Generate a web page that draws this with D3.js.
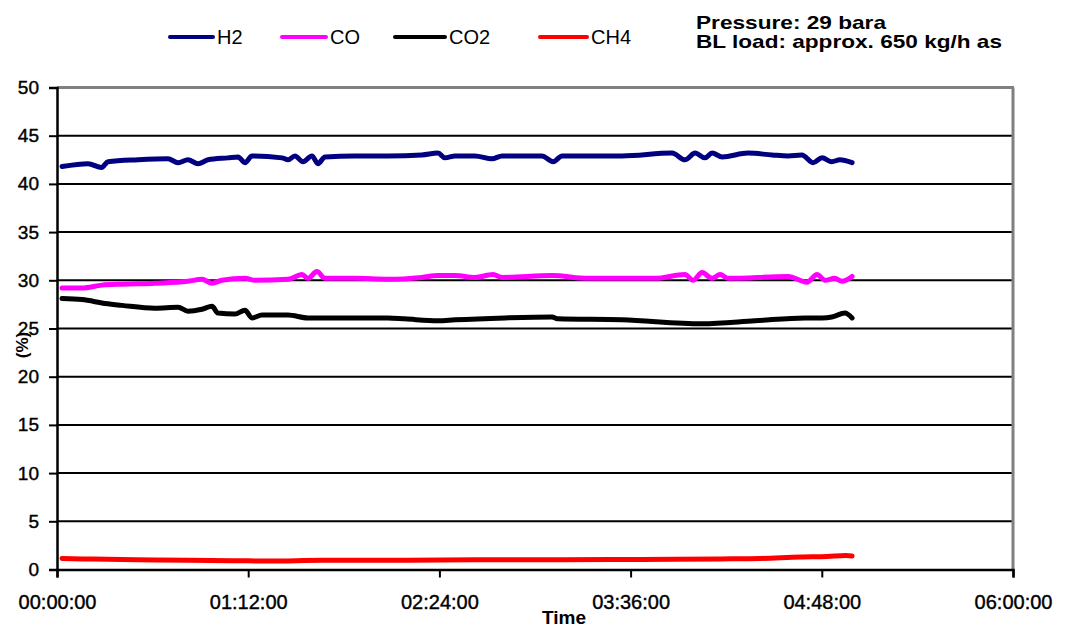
<!DOCTYPE html>
<html><head><meta charset="utf-8">
<script src="https://cdn.jsdelivr.net/npm/d3@7"></script>
<style>body{margin:0;background:#fff}svg{display:block}</style>
</head><body>
<script>
// ---- data (time in minutes, value in %) ----
const seriesNames = ["H2", "CO", "CO2", "CH4"];
const seriesColors = ["#000080", "#ff00ff", "#000000", "#ff0000"];
const yTicks = [0, 5, 10, 15, 20, 25, 30, 35, 40, 45, 50];
const xTickMinutes = [0, 72, 144, 216, 288, 360];
const xTickLabels = ["00:00:00", "01:12:00", "02:24:00", "03:36:00", "04:48:00", "06:00:00"];

const h2Time = [1.9,11.7,16.8,19.2,30.5,41.8,45.6,49.3,53.1,56.9,64.4,68.2,70.8,73.4,84.7,87.0,89.6,92.6,96.0,98.3,100.9,112.2,124.6,137.4,143.5,146.1,149.9,157.4,163.8,167.6,182.6,186.8,190.2,212.8,231.6,236.5,240.3,244.0,246.7,250.5,260.2,269.3,275.3,280.5,284.7,288.1,291.8,294.8,299.4];
const h2Values = [41.8,42.1,41.7,42.3,42.5,42.6,42.2,42.5,42.1,42.5,42.7,42.8,42.2,42.9,42.7,42.5,42.9,42.3,42.9,42.1,42.8,42.9,42.9,43.0,43.2,42.7,42.9,42.9,42.6,42.9,42.9,42.3,42.9,42.9,43.2,42.5,43.2,42.7,43.2,42.8,43.2,43.0,42.9,43.0,42.2,42.7,42.3,42.5,42.2];

const coTime = [1.9,9.4,16.9,24.5,36.9,49.3,54.6,58.4,62.1,70.8,74.6,87.0,92.3,94.5,97.9,100.9,112.2,124.6,137.4,143.5,149.9,157.4,164.2,167.6,186.4,200.0,225.2,236.5,239.5,242.9,246.7,249.7,252.7,275.3,282.4,286.2,289.2,292.9,295.6,299.4];
const coValues = [29.2,29.2,29.5,29.6,29.7,29.9,30.1,29.7,30.0,30.2,30.0,30.1,30.6,30.2,30.9,30.2,30.2,30.1,30.3,30.5,30.5,30.3,30.6,30.3,30.5,30.2,30.2,30.6,30.0,30.8,30.2,30.6,30.2,30.4,29.8,30.6,30.0,30.2,29.9,30.4];

const co2Time = [1.9,9.4,18.1,24.5,36.9,45.6,49.3,54.6,58.4,60.6,67.0,70.8,73.4,77.2,87.0,94.5,112.2,124.6,131.0,143.5,149.9,168.7,186.4,188.7,212.8,242.9,262.8,281.7,288.1,291.8,296.7,299.4];
const co2Values = [28.1,28.0,27.6,27.4,27.1,27.2,26.8,27.0,27.3,26.6,26.5,26.9,26.1,26.4,26.4,26.1,26.1,26.1,26.0,25.8,25.9,26.1,26.2,26.0,25.9,25.5,25.8,26.1,26.1,26.2,26.6,26.1];

const ch4Time = [1.9,10,30,50,70,80,100,130,160,190,220,250,265,280,290,297,299.4];
const ch4Values = [1.15,1.1,1.0,0.95,0.9,0.88,0.95,0.95,1.0,1.0,1.05,1.1,1.15,1.3,1.35,1.45,1.4];

const seriesTimes = [h2Time, coTime, co2Time, ch4Time];
const seriesValues = [h2Values, coValues, co2Values, ch4Values];

// ---- layout ----
const W = 1070, H = 628;
const plotLeft = 57, plotRight = 1013, plotTop = 87.5, plotBottom = 569.5;

const svg = d3.select("body").append("svg").attr("width", W).attr("height", H)
  .style("font-family", "Arial, 'Liberation Sans', sans-serif");

const x = d3.scaleLinear().domain([0, 360]).range([plotLeft, plotRight]);
const y = d3.scaleLinear().domain([0, 50]).range([plotBottom, plotTop]);

// gridlines
svg.append("g").selectAll("line").data(yTicks.filter(d => d > 0 && d < 50)).join("line")
  .attr("x1", plotLeft).attr("x2", plotRight).attr("y1", d => y(d)).attr("y2", d => y(d))
  .attr("stroke", "#000").attr("stroke-width", 2);

// top and right border (gray)
svg.append("line").attr("x1", plotLeft).attr("x2", plotRight + 1).attr("y1", y(50)).attr("y2", y(50))
  .attr("stroke", "#808080").attr("stroke-width", 3);
svg.append("line").attr("x1", plotRight).attr("x2", plotRight).attr("y1", y(50)).attr("y2", y(0))
  .attr("stroke", "#808080").attr("stroke-width", 3);

// y axis
const yAxis = d3.axisLeft(y).tickValues(yTicks).tickSize(8).tickPadding(10).tickFormat(d3.format("d"));
const gy = svg.append("g").attr("transform", `translate(${plotLeft},0)`).call(yAxis);
gy.select(".domain").attr("stroke", "#000").attr("stroke-width", 2.5);
gy.selectAll(".tick line").attr("stroke", "#000").attr("stroke-width", 2);
gy.selectAll(".tick text").attr("font-size", 19).attr("fill", "#000")
  .attr("stroke", "#000").attr("stroke-width", 0.4)
  .attr("font-family", "Arial, 'Liberation Sans', sans-serif");

// x axis
const xAxis = d3.axisBottom(x).tickValues(xTickMinutes).tickSize(8).tickPadding(17)
  .tickFormat((d, i) => xTickLabels[i]);
const gx = svg.append("g").attr("transform", `translate(0,${plotBottom})`).call(xAxis);
gx.select(".domain").attr("stroke", "#000").attr("stroke-width", 2.5);
gx.selectAll(".tick line").attr("stroke", "#000").attr("stroke-width", 2);
gx.selectAll(".tick text").attr("font-size", 20).attr("fill", "#000")
  .attr("stroke", "#000").attr("stroke-width", 0.4)
  .attr("font-family", "Arial, 'Liberation Sans', sans-serif");

// series lines
const line = d3.line().x(d => x(d[0])).y(d => y(d[1])).curve(d3.curveMonotoneX);
seriesNames.forEach((name, i) => {
  const pts = seriesTimes[i].map((t, j) => [t, seriesValues[i][j]]);
  svg.append("path").datum(pts).attr("d", line).attr("fill", "none")
    .attr("stroke", seriesColors[i]).attr("stroke-width", 5)
    .attr("stroke-linejoin", "round").attr("stroke-linecap", "round");
});

// axis titles
svg.append("text").attr("x", 564).attr("y", 624).attr("text-anchor", "middle")
  .attr("font-size", 19).attr("font-weight", "bold").text("Time");
svg.append("text").attr("transform", "translate(28,345) rotate(-90)").attr("text-anchor", "middle")
  .attr("font-size", 17).attr("font-weight", "bold").text("(%)");

// legend
const legX = [170, 282, 395, 540];
const legLen = [43, 44, 50, 47];
const leg = svg.append("g");
seriesNames.forEach((name, i) => {
  leg.append("line").attr("x1", legX[i]).attr("x2", legX[i] + legLen[i]).attr("y1", 37).attr("y2", 37)
    .attr("stroke", seriesColors[i]).attr("stroke-width", 4).attr("stroke-linecap", "round");
  leg.append("text").attr("x", legX[i] + legLen[i] + 4).attr("y", 44).attr("font-size", 20)
    .attr("fill", "#000").text(name);
});

// annotation
svg.append("text").attr("x", 696).attr("y", 29).attr("font-size", 19).attr("font-weight", "bold")
  .attr("textLength", 190).attr("lengthAdjust", "spacingAndGlyphs")
  .text("Pressure: 29 bara");
svg.append("text").attr("x", 696).attr("y", 48).attr("font-size", 19).attr("font-weight", "bold")
  .attr("textLength", 306).attr("lengthAdjust", "spacingAndGlyphs")
  .text("BL load: approx. 650 kg/h as");
</script>
</body></html>
